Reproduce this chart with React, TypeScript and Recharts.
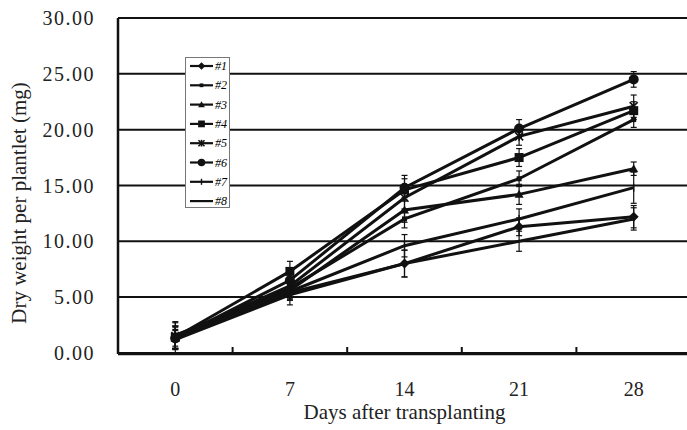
import React from "react";
import {
  LineChart,
  Line,
  XAxis,
  YAxis,
  CartesianGrid,
  ErrorBar,
  Legend,
  Label,
} from "recharts";

// days after transplanting
const days = [0, 7, 14, 21, 28];
const dayTicks = [0, 7, 14, 21, 28];
const boundaryTicks = [3.5, 10.5, 17.5, 24.5];
const yTicks = [0, 5, 10, 15, 20, 25, 30];

// dry weight per plantlet (mg), one list per line
const line1 = [1.4, 5.4, 8.0, 11.3, 12.2];
const line2 = [1.2, 5.8, 12.0, 15.6, 20.9];
const line3 = [1.6, 5.6, 12.8, 14.2, 16.5];
const line4 = [1.4, 7.3, 14.6, 17.5, 21.7];
const line5 = [1.5, 6.0, 13.9, 19.4, 22.1];
const line6 = [1.3, 6.5, 14.8, 20.1, 24.5];
const line7 = [1.3, 5.5, 9.6, 12.0, 14.8];
const line8 = [1.2, 5.2, 8.0, 10.0, 12.0];

// standard errors
const err1 = [1.0, 0.7, 1.2, 0.8, 1.0];
const err2 = [0.8, 0.6, 0.8, 0.7, 0.7];
const err3 = [1.2, 0.8, 1.1, 0.9, 0.6];
const err4 = [1.0, 0.9, 1.0, 0.8, 0.8];
const err5 = [0.9, 0.7, 1.0, 0.8, 1.0];
const err6 = [1.4, 0.8, 1.1, 0.8, 0.7];
const err7 = [1.0, 0.6, 1.0, 0.9, 1.4];
const err8 = [0.9, 0.9, 1.2, 0.9, 1.0];

const seriesNames = ["#1", "#2", "#3", "#4", "#5", "#6", "#7", "#8"];
const seriesValues = [line1, line2, line3, line4, line5, line6, line7, line8];
const seriesErrors = [err1, err2, err3, err4, err5, err6, err7, err8];

type Shape = "diamond" | "dash" | "triangle" | "square" | "cross" | "circle" | "plus" | "none";
const shapes: Shape[] = ["diamond", "dash", "triangle", "square", "cross", "circle", "plus", "none"];

const data = days.map((d, i) => {
  const row: Record<string, number> = { day: d };
  seriesValues.forEach((vals, k) => {
    row[`s${k + 1}`] = vals[i];
    row[`e${k + 1}`] = seriesErrors[k][i];
  });
  return row;
});

const INK = "#111";
const FONT = "'Liberation Serif', 'DejaVu Serif', serif";

function Marker({ cx, cy, shape, s = 1 }: { cx: number; cy: number; shape: Shape; s?: number }) {
  switch (shape) {
    case "diamond":
      return (
        <path
          d={`M${cx},${cy - 5 * s} L${cx + 5 * s},${cy} L${cx},${cy + 5 * s} L${cx - 5 * s},${cy} Z`}
          fill={INK}
        />
      );
    case "dash":
      return <rect x={cx - 2.5 * s} y={cy - 2.5 * s} width={5 * s} height={5 * s} fill={INK} />;
    case "triangle":
      return (
        <path
          d={`M${cx},${cy - 4.5 * s} L${cx + 4.5 * s},${cy + 3.5 * s} L${cx - 4.5 * s},${cy + 3.5 * s} Z`}
          fill={INK}
        />
      );
    case "square":
      return <rect x={cx - 4.5 * s} y={cy - 4.5 * s} width={9 * s} height={9 * s} fill={INK} />;
    case "cross":
      return (
        <g stroke={INK} strokeWidth={1.6}>
          <line x1={cx - 4 * s} y1={cy - 4 * s} x2={cx + 4 * s} y2={cy + 4 * s} />
          <line x1={cx - 4 * s} y1={cy + 4 * s} x2={cx + 4 * s} y2={cy - 4 * s} />
          <line x1={cx} y1={cy - 4.5 * s} x2={cx} y2={cy + 4.5 * s} />
        </g>
      );
    case "circle":
      return <circle cx={cx} cy={cy} r={5 * s} fill={INK} />;
    case "plus":
      return (
        <g stroke={INK} strokeWidth={1.4}>
          <line x1={cx} y1={cy - 4 * s} x2={cx} y2={cy + 4 * s} />
        </g>
      );
    default:
      return null;
  }
}

function DayTick(props: any) {
  const { x, y, payload } = props;
  if (boundaryTicks.includes(payload.value)) {
    return <line x1={x} x2={x} y1={y} y2={y - 7} stroke={INK} strokeWidth={2} />;
  }
  return (
    <text
      x={x}
      y={y + 35}
      textAnchor="middle"
      dominantBaseline="central"
      fill="#222"
      fontSize={20}
      fontFamily={FONT}
    >
      {payload.value}
    </text>
  );
}

function YTitle({ viewBox }: any) {
  const cx = viewBox.x + 19;
  const cy = viewBox.y + viewBox.height / 2 + 17;
  return (
    <text
      x={cx}
      y={cy}
      transform={`rotate(-90 ${cx} ${cy})`}
      textAnchor="middle"
      dominantBaseline="central"
      fill="#222"
      fontSize={21}
      fontFamily={FONT}
    >
      Dry weight per plantlet (mg)
    </text>
  );
}

function LegendBox() {
  return (
    <div
      style={{
        width: 45,
        height: 151,
        boxSizing: "border-box",
        background: "#fff",
        border: "1px solid #777",
      }}
    >
      <svg width={43} height={149}>
        {seriesNames.map((name, i) => {
          const cy = 8 + i * 19.3;
          return (
            <g key={name}>
              <line x1={4} x2={27} y1={cy} y2={cy} stroke={INK} strokeWidth={2.2} />
              <Marker cx={15.5} cy={cy} shape={shapes[i]} s={0.75} />
              <text
                x={29}
                y={cy}
                dominantBaseline="central"
                fontSize={12}
                fontStyle="italic"
                fontFamily={FONT}
                fill="#000"
              >
                {name}
              </text>
            </g>
          );
        })}
      </svg>
    </div>
  );
}

export default function App() {
  return (
    <div
      style={{
        position: "absolute",
        left: 0,
        top: 0,
        width: 687,
        height: 430,
        overflow: "hidden",
        background: "#fff",
        fontFamily: FONT,
      }}
    >
      <LineChart width={700} height={430} data={data} margin={{ top: 18, right: 9, bottom: 0, left: 0 }}>
        <CartesianGrid vertical={false} stroke={INK} strokeWidth={2} />
        <XAxis
          dataKey="day"
          type="number"
          domain={[-3.5, 31.5]}
          ticks={[...dayTicks, ...boundaryTicks].sort((a, b) => a - b)}
          tick={<DayTick />}
          tickLine={false}
          tickSize={0}
          tickMargin={0}
          interval={0}
          height={76}
          axisLine={{ stroke: INK, strokeWidth: 2.5 }}
        >
          <Label
            value="Days after transplanting"
            position="insideBottom"
            offset={11}
            fill="#222"
            fontSize={21}
            fontFamily={FONT}
          />
        </XAxis>
        <YAxis
          domain={[0, 30]}
          ticks={yTicks}
          tickFormatter={(v: number) => v.toFixed(2)}
          tick={{ fill: "#222", fontSize: 20, fontFamily: FONT, letterSpacing: 1.5 }}
          tickLine={false}
          tickSize={0}
          tickMargin={23}
          width={118}
          axisLine={{ stroke: INK, strokeWidth: 2.5 }}
          label={<YTitle />}
        />
        <Legend
          layout="horizontal"
          verticalAlign="middle"
          align="center"
          content={<LegendBox />}
          wrapperStyle={{ left: 185, top: 57, width: 45, height: 151 }}
        />
        {seriesNames.map((name, k) => (
          <Line
            key={name}
            name={name}
            type="linear"
            dataKey={`s${k + 1}`}
            stroke={INK}
            strokeWidth={3}
            isAnimationActive={false}
            dot={(p: any) => <Marker key={`${name}-${p.index}`} cx={p.cx} cy={p.cy} shape={shapes[k]} />}
            activeDot={false}
          >
            <ErrorBar dataKey={`e${k + 1}`} width={3} stroke={INK} strokeWidth={1.2} direction="y" />
          </Line>
        ))}
      </LineChart>
    </div>
  );
}
